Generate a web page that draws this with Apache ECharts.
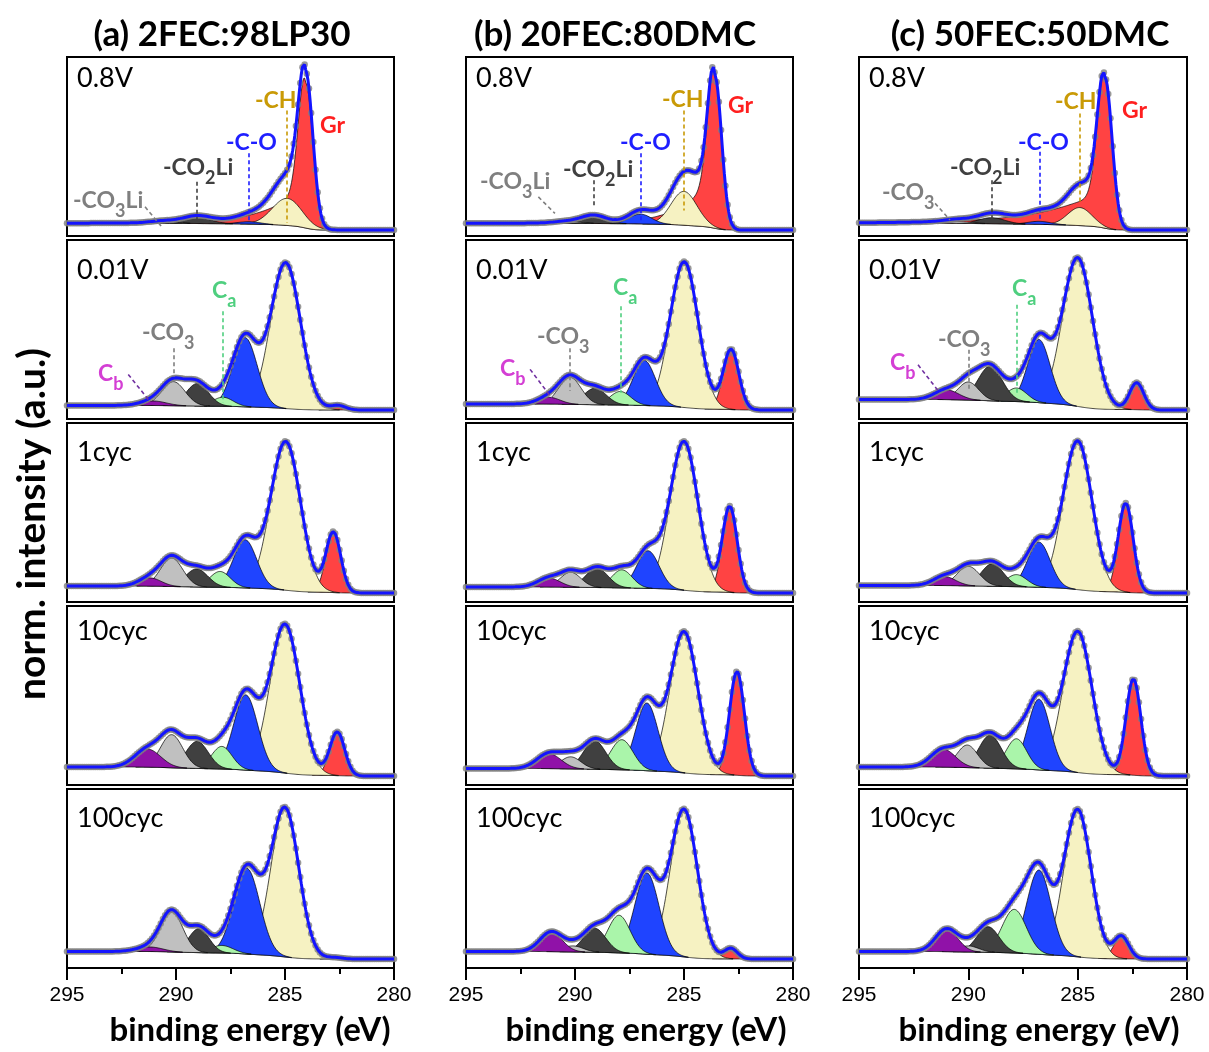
<!DOCTYPE html>
<html><head><meta charset="utf-8">
<script src="https://cdn.jsdelivr.net/npm/echarts@6/dist/echarts.min.js"></script>
<style>html,body{margin:0;padding:0;background:#fff}#c{width:1209px;height:1052px}</style>
</head><body><div id="c"></div>
<script>
// ---------------- DATA ----------------
const columnTitles = ['(a) 2FEC:98LP30', '(b) 20FEC:80DMC', '(c) 50FEC:50DMC'];
const rowLabels = ['0.8V', '0.01V', '1cyc', '10cyc', '100cyc'];
const xTicks = [295, 290, 285, 280];
const xAxisName = 'binding energy (eV)';
const yAxisName = 'norm. intensity (a.u.)';
// fitted components: [centre (eV), height (norm.), FWHM (eV)], indexed [column][row]
const peakGr = [
  [[284.04,0.96,0.75],[282.57,0.03,0.8],[282.78,0.40,0.8],[282.6,0.29,0.8],[282.7,0.01,0.8]],
  [[283.58,1.00,0.72],[282.84,0.40,0.84],[282.9,0.57,0.8],[282.57,0.69,0.8],[282.85,0.07,0.7]],
  [[283.75,0.99,0.76],[282.3,0.18,0.76],[282.8,0.59,0.8],[282.45,0.64,0.8],[283.0,0.15,0.8]]
];
// high-BE tail of the graphite peak at 0.8V: [amplitude, decay (eV)] per column
const grTail08V = [[0.30,1.6],[0.40,1.3],[0.26,2.5]];
const peakCH = [
  [[284.9,0.18,1.6],[284.97,0.97,1.6],[284.97,0.99,1.6],[285.0,0.99,1.6],[285.0,0.99,1.5]],
  [[285.0,0.225,1.4],[284.99,0.97,1.5],[285.0,0.99,1.5],[285.0,0.94,1.5],[285.0,0.98,1.45]],
  [[284.9,0.12,1.3],[285.0,0.99,1.6],[285.0,0.99,1.55],[285.0,0.94,1.55],[285.0,0.98,1.45]]
];
const peakCO = [
  [[286.65,0.015,1.2],[286.83,0.46,1.3],[286.83,0.32,1.25],[286.8,0.50,1.3],[286.75,0.57,1.4]],
  [[287.0,0.065,1.2],[286.82,0.30,1.2],[286.65,0.25,1.2],[286.7,0.45,1.2],[286.7,0.54,1.3]],
  [[286.75,0.02,1.2],[286.77,0.42,1.2],[286.77,0.30,1.2],[286.77,0.47,1.2],[286.77,0.56,1.3]]
];
const peakCa = [
  [[287.9,0,1.0],[287.85,0.06,1.1],[287.98,0.105,1.1],[287.9,0.15,1.1],[287.9,0.05,1.2]],
  [[287.9,0,1.0],[287.92,0.09,1.1],[287.85,0.12,1.1],[287.85,0.20,1.2],[287.98,0.25,1.2]],
  [[287.9,0,1.0],[287.8,0.09,1.1],[287.8,0.08,1.1],[287.8,0.20,1.1],[287.9,0.29,1.3]]
];
const peakCO2Li = [
  [[289.05,0.04,1.5],[289.02,0.15,1.2],[289.05,0.12,1.2],[289.03,0.18,1.2],[288.95,0.16,1.1]],
  [[289.16,0.05,1.3],[289.08,0.11,1.2],[289.0,0.13,1.2],[289.1,0.19,1.2],[289.1,0.16,1.2]],
  [[288.93,0.04,1.4],[289.0,0.23,1.3],[288.9,0.15,1.2],[289.0,0.22,1.2],[289.1,0.17,1.2]]
];
const peakCO3 = [
  [[290.6,0.012,1.4],[290.12,0.16,1.25],[290.2,0.19,1.2],[290.2,0.22,1.2],[290.2,0.27,1.2]],
  [[290.4,0.012,1.4],[290.23,0.18,1.2],[290.2,0.10,1.1],[290.2,0.08,1.1],[290.1,0.04,1.1]],
  [[290.5,0.012,1.4],[290.0,0.12,1.1],[290.0,0.13,1.2],[290.05,0.15,1.1],[290.0,0.04,1.1]]
];
const peakCb = [
  [[291.2,0,1.2],[291.05,0.03,1.4],[291.2,0.055,1.2],[291.3,0.12,1.4],[291.2,0.03,1.4]],
  [[291.2,0,1.2],[291.2,0.045,1.2],[291.2,0.06,1.2],[291.2,0.10,1.3],[291.1,0.13,1.2]],
  [[291.2,0,1.2],[291.0,0.065,1.3],[291.1,0.06,1.2],[291.15,0.12,1.3],[291.0,0.15,1.2]]
];
// Shirley background end levels
const bgLeft = [[0.025,0.03,0.046,0.06,0.05],[0.025,0.04,0.04,0.05,0.05],[0.025,0.07,0.05,0.06,0.05]];
const bgRight = [[-0.02,0,0,0,0],[-0.02,0,0,0,0],[-0.02,0,0,0,0]];

// ---------------- LAYOUT / STYLE ----------------
const gridLeft = [67, 466, 859], gridWidth = [327, 327, 328];
const gridTop = [57, 240, 423, 606, 789], gridH = 179;
const compColors = ['#ff4343', '#f6f2c2', '#1f44ff', '#aaf5aa', '#404040', '#c0c0c0', '#9012a8'];
const envColor = '#1414ff';
// label text pieces: [text, isSubscript]
const LAB = {
  CO3Li: {p:[['-CO',0],['3',1],['Li',0]], c:'#7f7f7f'}, CO3: {p:[['-CO',0],['3',1]], c:'#7f7f7f'},
  CO2Li: {p:[['-CO',0],['2',1],['Li',0]], c:'#404040'}, CO: {p:[['-C-O',0]], c:'#1f1fff'},
  CH: {p:[['-CH',0]], c:'#c99a06'}, Gr: {p:[['Gr',0]], c:'#ff1f1f'},
  Cb: {p:[['C',0],['b',1]], c:'#d43fd4'}, Ca: {p:[['C',0],['a',1]], c:'#4fcf7f'}
};
const leaderColor = {CO3Li:'#7f7f7f', CO3:'#7f7f7f', CO2Li:'#404040', CO:'#1f1fff', CH:'#c99a06', Cb:'#7030a0', Ca:'#4fcf7f'};
// label positions (px: left, text centre y)
const labelPos = [
  [[['CO3Li',73,201],['CO2Li',163,168],['CO',226,143],['CH',255,101],['Gr',320,126]],
   [['Cb',98,374],['CO3',142,333],['Ca',212,291]]],
  [[['CO3Li',480,182],['CO2Li',563,170],['CO',620,143],['CH',662,100],['Gr',728,106]],
   [['Cb',500,369],['CO3',537,337],['Ca',613,288]]],
  [[['CO3',882,193],['CO2Li',950,168],['CO',1018,143],['CH',1055,102],['Gr',1122,111]],
   [['Cb',890,363],['CO3',938,340],['Ca',1012,289]]]
];
// leaders: vertical ones ['key', peakIndex, vTop, vBottom]; slanted ['key', null, eTop, vTop, eBot, vBot]
const leaders = [
  [[['CO3Li',null,291.42,0.134,290.66,0.002],['CO2Li',4,0.30,0.025],['CO',2,0.49,0.026],['CH',1,0.775,0.026]],
   [['Cb',null,292.19,0.236,291.27,0.07],['CO3',5,0.41,0.22],['Ca',3,0.656,0.05]]],
  [[['CO3Li',null,291.68,0.2,290.92,0.09],['CO2Li',4,0.31,0.134],['CO',2,0.49,0.026],['CH',1,0.775,0.11]],
   [['Cb',null,292.06,0.27,291.07,0.08],['CO3',5,0.41,0.126],['Ca',3,0.69,0.115]]],
  [[['CO3',null,291.52,0.157,290.84,0.046],['CO2Li',4,0.31,0.046],['CO',2,0.5,0.046],['CH',1,0.755,0.157]],
   [['Cb',null,292.3,0.3,291.37,0.126],['CO3',5,0.4,0.137],['Ca',3,0.7,0.115]]]
];
const rowLabelY = [78, 270, 452, 631, 818];

// ---------------- MODEL ----------------
const LN2x4 = 4 * Math.log(2);
function gauss(E, p) { return p[1] * Math.exp(-LN2x4 * Math.pow((E - p[0]) / p[2], 2)); }
function tailFn(E, c, t) { const d = E - c; return d > 0 ? t[0] * (1 - Math.exp(-d / 0.3)) * Math.exp(-d / t[1]) : 0; }
const energies = [];
for (let i = 0; i <= 300; i++) energies.push(Math.round((280 + i * 0.05) * 100) / 100);
const allPeaks = [peakGr, peakCH, peakCO, peakCa, peakCO2Li, peakCO3, peakCb];
function buildPanel(c, r) {
  const pk = allPeaks.map(a => a[c][r]);
  const comps = pk.map((p, k) => energies.map(E => {
    let v = p[1] > 0 ? gauss(E, p) : 0;
    if (k === 0 && r === 0) v += tailFn(E, p[0], grTail08V[c]);
    return v;
  }));
  const sum = energies.map((E, i) => comps.reduce((s, a) => s + a[i], 0));
  let acc = 0; const cum = sum.map(s => (acc += s));
  const bgL = bgLeft[c][r], bgR = bgRight[c][r];
  const bg = cum.map(x => bgR + (bgL - bgR) * x / acc);
  const polys = comps.map((a, k) => {
    if (pk[k][1] <= 0) return null;
    let i0 = -1, i1 = -1;
    a.forEach((v, i) => { if (v > 0.0015) { if (i0 < 0) i0 = i; i1 = i; } });
    if (i0 < 0) return null;
    i0 = Math.max(0, i0 - 1); i1 = Math.min(a.length - 1, i1 + 1);
    const top = [], bot = [];
    for (let i = i0; i <= i1; i++) { top.push([energies[i], bg[i] + a[i]]); bot.push([energies[i], bg[i]]); }
    return top.concat(bot.reverse());
  });
  const env = energies.map((E, i) => [E, bg[i] + sum[i]]);
  return { pk, polys, env };
}

// ---------------- OPTION ----------------
const grids = [], xAxes = [], yAxes = [], series = [], graphics = [];
const measureCtx = document.createElement('canvas').getContext('2d');
const FONT_M = 'bold 23px Lato', FONT_S = 'bold 18px Lato';
function addLabel(key, x, cy) {
  const d = LAB[key];
  d.p.forEach(part => {
    const sub = part[1] === 1;
    const font = sub ? FONT_S : FONT_M;
    graphics.push({ type: 'text', x: x, y: cy + (sub ? 10 : 0), z: 100,
      style: { text: part[0], font: font, fill: d.c, align: 'left', verticalAlign: 'middle' } });
    measureCtx.font = font;
    x += measureCtx.measureText(part[0]).width;
  });
}

for (let c = 0; c < 3; c++) {
  for (let r = 0; r < 5; r++) {
    const idx = c * 5 + r;
    const bottom = r === 4;
    grids.push({ left: gridLeft[c], top: gridTop[r], width: gridWidth[c], height: gridH, show: true, borderColor: '#000', borderWidth: 2, backgroundColor: 'transparent' });
    xAxes.push({
      gridIndex: idx, type: 'value', min: 280, max: 295, interval: 5, inverse: true,
      axisLine: { show: bottom, onZero: false, lineStyle: { color: '#000', width: 2 } },
      axisTick: { show: bottom, length: 12, lineStyle: { color: '#000', width: 2 } },
      minorTick: { show: bottom, splitNumber: 2, length: 6, lineStyle: { color: '#000', width: 2 } },
      axisLabel: { show: bottom, margin: 17, fontSize: 21, fontFamily: 'Liberation Sans', color: '#000', showMinLabel: true, showMaxLabel: true,
        formatter: v => xTicks.indexOf(v) >= 0 ? String(v) : '' },
      splitLine: { show: false }, minorSplitLine: { show: false }
    });
    yAxes.push({ gridIndex: idx, type: 'value', min: -0.06, max: 1.13, show: false, splitLine: { show: false } });

    const panel = buildPanel(c, r);
    series.push({
      type: 'custom', xAxisIndex: idx, yAxisIndex: idx, z: 2, silent: true, animation: false,
      data: [0, 1, 2, 3, 4, 5, 6].filter(k => panel.polys[k]).map(k => [panel.pk[k][0], 0, k]),
      encode: { x: 0, y: 1 },
      renderItem: (params, api) => {
        const k = api.value(2);
        const pts = panel.polys[k].map(p => api.coord(p));
        return { type: 'polygon', shape: { points: pts }, style: { fill: compColors[k], stroke: '#000', lineWidth: 0.7 } };
      }
    });
    series.push({
      type: 'scatter', xAxisIndex: idx, yAxisIndex: idx, z: 3, silent: true, animation: false,
      symbolSize: 6.5, itemStyle: { color: '#7f7f7f' },
      data: panel.env.filter((_, i) => i % 2 === 0)
    });
    const ml = [];
    if (r < 2) {
      leaders[c][r].forEach(l => {
        const ls = { color: leaderColor[l[0]], type: [4, 3], width: 1.6 };
        let a, b;
        if (l[1] === null) { a = [l[2], l[3]]; b = [l[4], l[5]]; }
        else { const e = panel.pk[l[1]][0]; a = [e, l[2]]; b = [e, l[3]]; }
        ml.push([{ coord: a, lineStyle: ls }, { coord: b, lineStyle: ls }]);
      });
    }
    series.push({
      type: 'line', xAxisIndex: idx, yAxisIndex: idx, z: 4, silent: true, animation: false,
      showSymbol: false, symbol: 'none', lineStyle: { color: envColor, width: 3 },
      data: panel.env,
      markLine: { silent: true, animation: false, symbol: ['none', 'none'], label: { show: false }, data: ml }
    });
    graphics.push({ type: 'text', x: gridLeft[c] + 10, y: rowLabelY[r], z: 100,
      style: { text: rowLabels[r], font: '27px Lato', fill: '#000', align: 'left', verticalAlign: 'middle' } });
    if (r < 2) labelPos[c][r].forEach(lp => addLabel(lp[0], lp[1], lp[2]));
  }
}
const titleX = [222, 615, 1030];
const xNameX = [250, 646, 1039];
for (let c = 0; c < 3; c++) {
  graphics.push({ type: 'text', x: titleX[c], y: 35, z: 100,
    style: { text: columnTitles[c], font: 'bold 35px Lato', fill: '#000', align: 'center', verticalAlign: 'middle' } });
  graphics.push({ type: 'text', x: xNameX[c], y: 1030, z: 100,
    style: { text: xAxisName, font: 'bold 33px Lato', fill: '#000', align: 'center', verticalAlign: 'middle' } });
}
graphics.push({ type: 'text', x: 32, y: 524, rotation: Math.PI / 2, z: 100,
  style: { text: yAxisName, font: 'bold 39px Lato', fill: '#000', align: 'center', verticalAlign: 'middle' } });

const chart = echarts.init(document.getElementById('c'), null, { renderer: 'canvas', width: 1209, height: 1052 });
chart.setOption({ animation: false, backgroundColor: '#fff', grid: grids, xAxis: xAxes, yAxis: yAxes, series: series, graphic: graphics });
</script></body></html>
